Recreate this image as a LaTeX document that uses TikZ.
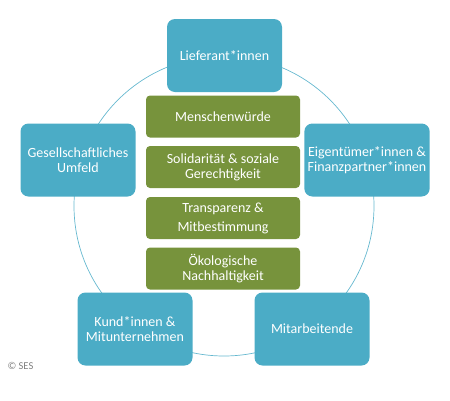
\documentclass[tikz,border=0pt]{standalone}
\usepackage{fontspec}
\setmainfont{Carlito}
\definecolor{stakeblue}{HTML}{4BACC6}
\definecolor{valuegreen}{HTML}{77933C}
\definecolor{notegray}{HTML}{7F7F7F}

\begin{document}
\begin{tikzpicture}[
    x=1pt,
    y=-1pt,
    stakeholder/.style={fill=stakeblue, rounded corners=8pt, text=white,
        minimum width=115pt, minimum height=73pt, align=center,
        font=\fontsize{14}{15}\selectfont},
    value/.style={fill=valuegreen, rounded corners=4pt, text=white,
        minimum width=154pt, minimum height=42pt, align=center,
        font=\fontsize{14}{15}\selectfont},
    ring/.style={stakeblue!85, line width=0.7pt},
    credit/.style={text=notegray, font=\fontsize{10.5}{12}\selectfont, anchor=west}
]

% -------------------------------------------------------------------------
% Canvas
% -------------------------------------------------------------------------
\useasboundingbox (0,0) rectangle (450,400);

% -------------------------------------------------------------------------
% Ring behind the boxes
% -------------------------------------------------------------------------
\coordinate (ring-center) at (224,206);
\draw[ ring ] (ring-center) circle [radius=150];

% -------------------------------------------------------------------------
% Stakeholder groups
% -------------------------------------------------------------------------
\node[ stakeholder ] (lieferanten)  at (224.5, 55.5) {Lieferant*innen};
\node[ stakeholder ] (umfeld)       at ( 78,160)     {Gesellschaftliches\\Umfeld};
\node[ stakeholder ] (eigentuemer)  at (367,160)     {Eigentümer*innen \&\\Finanzpartner*innen};
\node[ stakeholder ] (kunden)       at (135,329)     {Kund*innen \&\\Mitunternehmen};
\node[ stakeholder ] (mitarbeitende) at (312,329)    {Mitarbeitende};

% -------------------------------------------------------------------------
% Values
% -------------------------------------------------------------------------
\node[ value ] (wuerde)       at (223,116.5) {Menschenwürde};
\node[ value ] (solidaritaet) at (223,167)   {Solidarität \& soziale\\Gerechtigkeit};
\node[ value ] (transparenz)  at (223,218)   {Transparenz \&\\[4pt]Mitbestimmung};
\node[ value ] (oekologie)    at (223,268.5) {Ökologische\\Nachhaltigkeit};

% credit
\node[ credit ] (quelle) at (4,366) {© SES};

\end{tikzpicture}
\end{document}
